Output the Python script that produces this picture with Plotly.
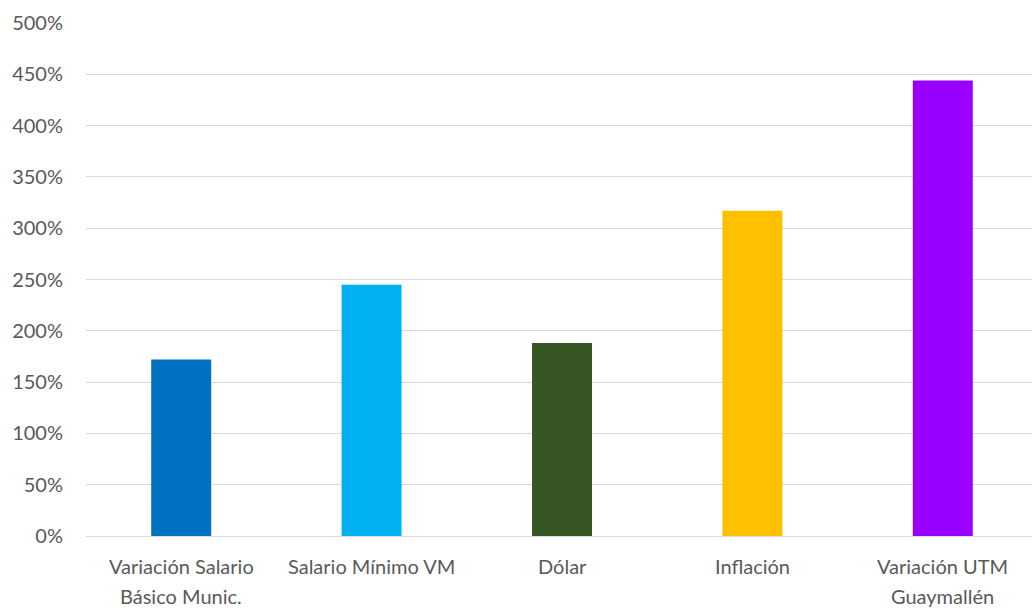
import plotly.graph_objects as go

categories = ["Variación Salario\nBásico Munic.", "Salario Mínimo VM", "Dólar", "Inflación", "Variación UTM\nGuaymallén"]
values = [1.72, 2.45, 1.88, 3.17, 4.44]
colors = ["#0070C0", "#00B0F0", "#375623", "#FFC000", "#9900FF"]
y_ticks = [0, 0.5, 1.0, 1.5, 2.0, 2.5, 3.0, 3.5, 4.0, 4.5, 5.0]

FONT = "Lato"
GRAY = "#595959"
FS = 20

fig = go.Figure(go.Bar(
    x=list(range(len(categories))),
    y=values,
    marker=dict(color=colors, line=dict(width=0)),
    width=0.315,
))

annotations = []
for i, cat in enumerate(categories):
    for j, line in enumerate(cat.split("\n")):
        annotations.append(dict(
            x=i, y=0, xref="x", yref="paper", text=line, showarrow=False,
            xanchor="center", yanchor="middle", yshift=-30 - 30 * j,
            font=dict(family=FONT, size=FS, color=GRAY),
        ))

fig.update_layout(
    width=1038, height=608,
    margin=dict(l=86, r=0, t=23, b=72),
    paper_bgcolor="white", plot_bgcolor="white",
    showlegend=False,
    annotations=annotations,
    xaxis=dict(range=[-0.5, len(categories) - 0.5], showticklabels=False,
               showgrid=False, zeroline=False, showline=False, ticks=""),
    yaxis=dict(range=[0, 5.0], tickvals=y_ticks, tickformat=".0%",
               showgrid=True, gridcolor="#D9D9D9", gridwidth=1.3,
               zeroline=True, zerolinecolor="#D9D9D9", zerolinewidth=1.3,
               showline=False, ticks="", ticklabelstandoff=22,
               tickfont=dict(family=FONT, size=FS, color=GRAY)),
)

fig.write_html("out.html", config={"displayModeBar": False},
               post_script="document.body.style.margin='0';document.body.style.overflow='hidden';")
